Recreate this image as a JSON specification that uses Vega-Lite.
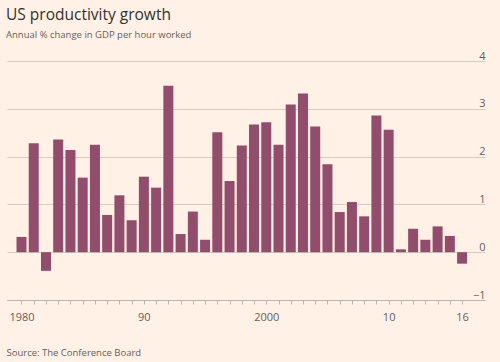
{
  "$schema": "https://vega.github.io/schema/vega-lite/v6.json",
  "width": 478,
  "height": 239,
  "autosize": {"type": "none"},
  "padding": {"left": 7, "top": 61, "right": 15, "bottom": 62},
  "background": "#FFF1E5",
  "title": {
    "text": "US productivity growth",
    "subtitle": "Annual % change in GDP per hour worked",
    "anchor": "start",
    "frame": "group",
    "offset": 11,
    "dx": -1,
    "font": "Open Sans",
    "fontSize": 15.5,
    "fontWeight": "normal",
    "color": "#33302E",
    "subtitleFont": "Open Sans",
    "subtitleFontSize": 9.5,
    "subtitleColor": "#66605C",
    "subtitlePadding": 6
  },
  "config": {"view": {"stroke": null}},
  "data": {
    "values": [
      {"year": 1980, "value": 0.32},
      {"year": 1981, "value": 2.28},
      {"year": 1982, "value": -0.39},
      {"year": 1983, "value": 2.36},
      {"year": 1984, "value": 2.14},
      {"year": 1985, "value": 1.56},
      {"year": 1986, "value": 2.25},
      {"year": 1987, "value": 0.78},
      {"year": 1988, "value": 1.19},
      {"year": 1989, "value": 0.67},
      {"year": 1990, "value": 1.58},
      {"year": 1991, "value": 1.35},
      {"year": 1992, "value": 3.48},
      {"year": 1993, "value": 0.38},
      {"year": 1994, "value": 0.85},
      {"year": 1995, "value": 0.26},
      {"year": 1996, "value": 2.51},
      {"year": 1997, "value": 1.49},
      {"year": 1998, "value": 2.23},
      {"year": 1999, "value": 2.67},
      {"year": 2000, "value": 2.72},
      {"year": 2001, "value": 2.25},
      {"year": 2002, "value": 3.09},
      {"year": 2003, "value": 3.32},
      {"year": 2004, "value": 2.63},
      {"year": 2005, "value": 1.84},
      {"year": 2006, "value": 0.84},
      {"year": 2007, "value": 1.05},
      {"year": 2008, "value": 0.75},
      {"year": 2009, "value": 2.86},
      {"year": 2010, "value": 2.56},
      {"year": 2011, "value": 0.06},
      {"year": 2012, "value": 0.49},
      {"year": 2013, "value": 0.26},
      {"year": 2014, "value": 0.54},
      {"year": 2015, "value": 0.34},
      {"year": 2016, "value": -0.24}
    ]
  },
  "mark": {"type": "bar", "color": "#924C6C", "width": 10},
  "encoding": {
    "x": {
      "field": "year",
      "type": "quantitative",
      "scale": {"domain": [1979.224, 2017.464], "nice": false, "zero": false},
      "axis": {
        "values": [1980,1981,1982,1983,1984,1985,1986,1987,1988,1989,1990,1991,1992,1993,1994,1995,1996,1997,1998,1999,2000,2001,2002,2003,2004,2005,2006,2007,2008,2009,2010,2011,2012,2013,2014,2015,2016],
        "labelExpr": "datum.value == 1980 ? '1980' : datum.value == 1990 ? '90' : datum.value == 2000 ? '2000' : datum.value == 2010 ? '10' : datum.value == 2016 ? '16' : ''",
        "labelFlush": false,
        "labelOverlap": false,
        "grid": false,
        "tickSize": 4,
        "tickColor": "#BDB3A8",
        "domainColor": "#BDB3A8",
        "labelColor": "#66605C",
        "labelFont": "Open Sans",
        "labelFontSize": 11,
        "labelPadding": 7,
        "title": "Source: The Conference Board",
        "titleAnchor": "start",
        "titleAlign": "left",
        "titleX": -1,
        "titleY": 52,
        "titleBaseline": "middle",
        "titleFont": "Open Sans",
        "titleFontSize": 9.5,
        "titleFontWeight": "normal",
        "titleColor": "#66605C"
      }
    },
    "y": {
      "field": "value",
      "type": "quantitative",
      "scale": {"domain": [-1, 4], "nice": false},
      "axis": {
        "orient": "right",
        "values": [-1, 0, 1, 2, 3, 4],
        "grid": true,
        "gridColor": "#D6CCC1",
        "domain": false,
        "ticks": false,
        "tickSize": 0,
        "labelAlign": "right",
        "labelBaseline": "alphabetic",
        "labelPadding": 0,
        "labelOffset": -2,
        "labelColor": "#66605C",
        "labelFont": "Open Sans",
        "labelFontSize": 11,
        "title": null
      }
    }
  }
}
